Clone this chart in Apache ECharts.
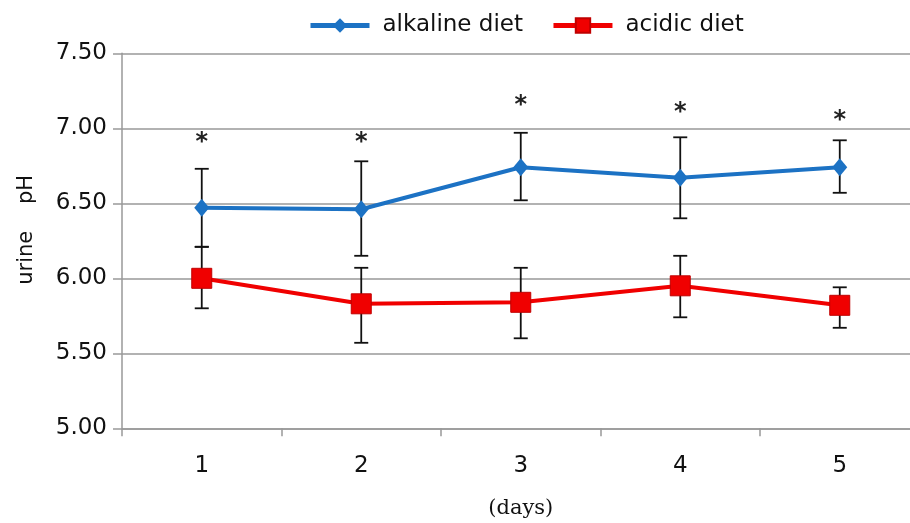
<!DOCTYPE html>
<html><head><meta charset="utf-8">
<script src="https://cdn.jsdelivr.net/npm/echarts@6/dist/echarts.min.js"></script>
<style>html,body{margin:0;padding:0;background:#fff}#c{width:910px;height:523px}</style>
</head><body><div id="c"></div>
<script>
const days = ['1', '2', '3', '4', '5'];
const alkalineMean = [6.47, 6.46, 6.74, 6.67, 6.74];
const alkalineLow  = [6.21, 6.15, 6.52, 6.40, 6.57];
const alkalineHigh = [6.73, 6.78, 6.97, 6.94, 6.92];
const acidicMean = [6.00, 5.83, 5.84, 5.95, 5.82];
const acidicLow  = [5.80, 5.57, 5.60, 5.74, 5.67];
const acidicHigh = [6.21, 6.07, 6.07, 6.15, 5.94];
const starLevels = [6.93, 6.93, 7.18, 7.13, 7.08];
const yTicks = [5.0, 5.5, 6.0, 6.5, 7.0, 7.5];

const FONT = 'DejaVu Sans';
const chart = echarts.init(document.getElementById('c'));

function errData(lo, hi) { return days.map((d, i) => [i, lo[i], hi[i]]); }
function errRender(params, api) {
  const i = api.value(0);
  const a = api.coord([i, api.value(1)]);
  const b = api.coord([i, api.value(2)]);
  const hw = 7;
  const st = { stroke: '#111', lineWidth: 1.8 };
  return { type: 'group', children: [
    { type: 'line', shape: { x1: a[0], y1: a[1], x2: b[0], y2: b[1] }, style: st },
    { type: 'line', shape: { x1: a[0] - hw, y1: a[1], x2: a[0] + hw, y2: a[1] }, style: st },
    { type: 'line', shape: { x1: b[0] - hw, y1: b[1], x2: b[0] + hw, y2: b[1] }, style: st }
  ]};
}

chart.setOption({
  animation: false,
  backgroundColor: '#fff',
  legend: {
    left: 303, top: 9,
    itemWidth: 59, itemHeight: 18, itemGap: 28,
    lineStyle: { width: 5 },
    textStyle: { fontFamily: FONT, fontSize: 23, color: '#111', padding: [0, 0, 0, 8] },
    data: ['alkaline diet', 'acidic diet']
  },
  grid: { left: 122, top: 53.3, right: -9.5, bottom: 94.7, containLabel: false, outerBoundsMode: 'none' },
  xAxis: {
    type: 'category', data: days, boundaryGap: true,
    name: '(days)', nameLocation: 'middle', nameGap: 70,
    nameTextStyle: { fontFamily: 'DejaVu Serif', fontSize: 21, color: '#111' },
    axisLine: { lineStyle: { color: '#999', width: 1.5 } },
    axisTick: { show: true, length: 8, lineStyle: { color: '#999', width: 1.5 } },
    axisLabel: { fontFamily: FONT, fontSize: 23, color: '#111', margin: 26 },
    splitLine: { show: false }
  },
  yAxis: {
    type: 'value', min: yTicks[0], max: yTicks[yTicks.length - 1], interval: 0.5,
    name: 'urine    pH', nameLocation: 'middle', nameGap: 85, nameRotate: 90,
    nameTextStyle: { fontFamily: FONT, fontSize: 21, color: '#111', padding: [0, 0, 0, 22] },
    axisLine: { show: true, lineStyle: { color: '#999', width: 1.5 } },
    axisTick: { show: true, length: 9, lineStyle: { color: '#999', width: 1.5 } },
    axisLabel: { fontFamily: FONT, fontSize: 23, color: '#111', margin: 15,
      formatter: v => v.toFixed(2) },
    splitLine: { show: true, lineStyle: { color: '#999', width: 1.5 } }
  },
  series: [
    { type: 'custom', name: 'err-alk', data: errData(alkalineLow, alkalineHigh), renderItem: errRender, z: 3, silent: true },
    { type: 'custom', name: 'err-acid', data: errData(acidicLow, acidicHigh), renderItem: errRender, z: 3, silent: true },
    { type: 'line', name: 'alkaline diet', data: alkalineMean, z: 5,
      symbol: 'diamond', symbolSize: [15, 18],
      lineStyle: { color: '#1C72C4', width: 4 },
      itemStyle: { color: '#1C72C4' } },
    { type: 'line', name: 'acidic diet', data: acidicMean, z: 5,
      symbol: 'rect', symbolSize: 20,
      lineStyle: { color: '#F00000', width: 4 },
      itemStyle: { color: '#F00000', borderColor: '#C00000', borderWidth: 1 } },
    { type: 'custom', name: 'stars', data: days.map((d, i) => [i, starLevels[i]]), z: 6, silent: true,
      renderItem: (params, api) => {
        const p = api.coord([api.value(0), api.value(1)]);
        return { type: 'text', x: p[0], y: p[1] + 4,
          style: { text: '*', fontFamily: FONT, fontWeight: 'bold', fontSize: 24, fill: '#222', align: 'center', verticalAlign: 'middle' } };
      } }
  ]
});
</script></body></html>
